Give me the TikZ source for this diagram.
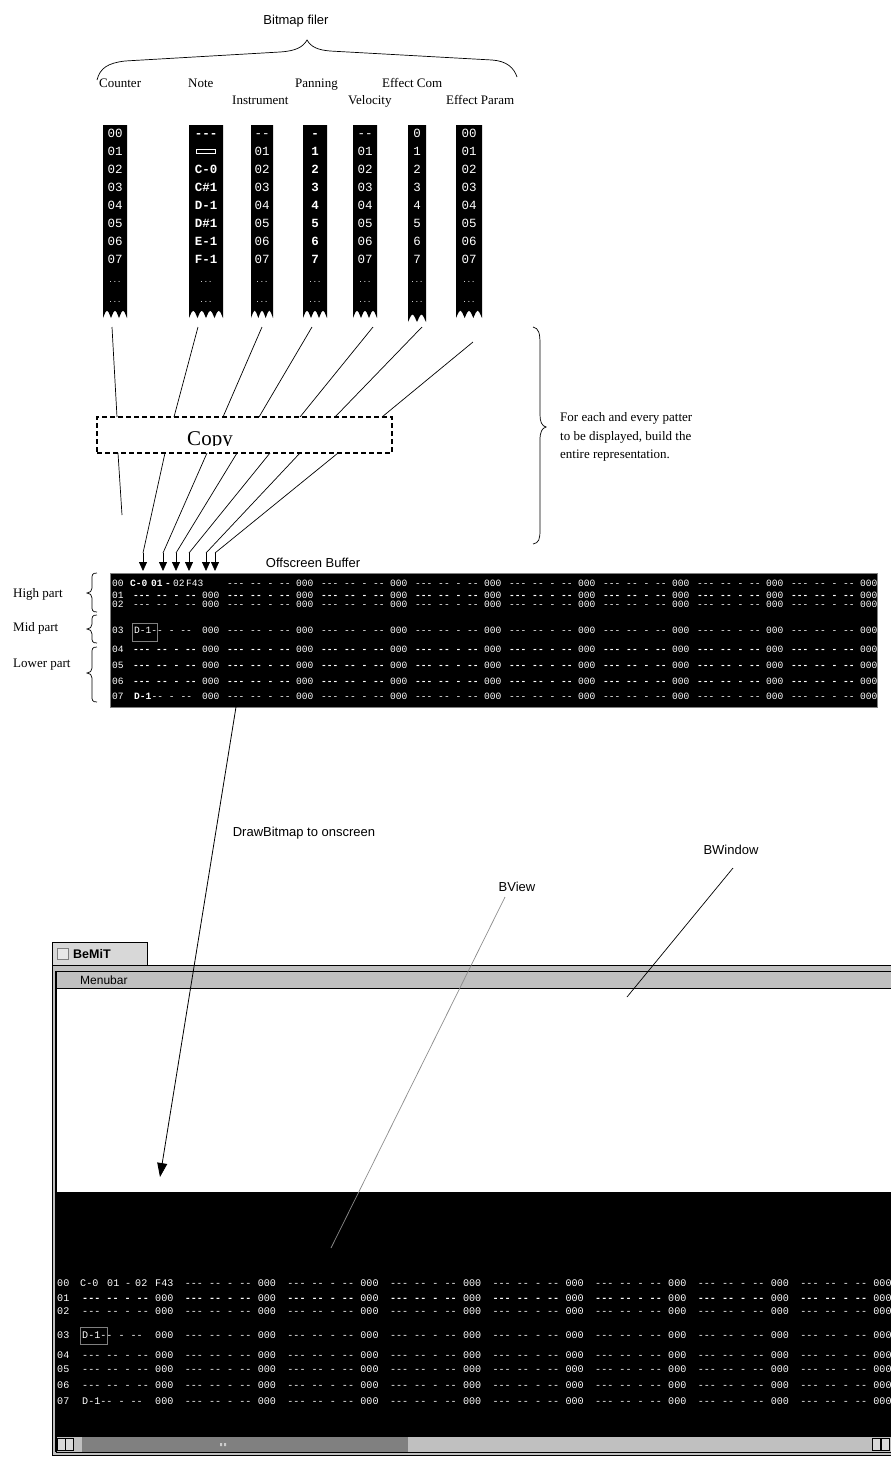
\documentclass[tikz,border=0pt]{standalone}
\usepackage{fontspec}
\setmainfont{Liberation Serif}
\setsansfont{Liberation Sans}
\newfontfamily\monof{Liberation Mono}
\usetikzlibrary{arrows.meta}
\definecolor{wingray}{HTML}{C0C0C0}
\definecolor{tabgray}{HTML}{D8D8D8}
\definecolor{thumbgray}{HTML}{808080}
\definecolor{linegray}{HTML}{8C8C8C}

% black strip with scalloped bottom: x1 x2 top bottom humps
\newcommand\stripshape[5]{%
  \pgfmathsetmacro\hw{(#2-#1)/#5}%
  \fill[black] (#1,#3) -- (#2,#3) -- (#2,#4)
    \foreach \i in {1,...,#5} { .. controls ({#2-(\i-0.5)*\hw},{#4-10}) .. ({#2-\i*\hw},#4) } -- cycle;
}
% left curly brace: top tip bottom
\newcommand\vbraceL[3]{%
  \draw[bracestroke] (97,#1) .. controls (92,#1) and (92,{#1+2}) .. (92,{#1+6})
    -- (92,{#2-5}) .. controls (92,{#2-2}) and (90,#2) .. (87,#2)
    .. controls (90,#2) and (92,{#2+2}) .. (92,{#2+5})
    -- (92,{#3-6}) .. controls (92,{#3-2}) and (92,#3) .. (97,#3);
}

\begin{document}
\begin{tikzpicture}[x=1pt,y=-1pt,
  sanslbl/.style={font=\sffamily\fontsize{13}{15}\selectfont,inner sep=0pt,anchor=base},
  seriflbl/.style={font=\fontsize{13}{15}\selectfont,inner sep=0pt,anchor=base west},
  striptxt/.style={font=\monof\fontsize{12.5}{12.5}\selectfont,text=white,inner sep=0pt,anchor=base},
  stripbold/.style={striptxt,font=\monof\bfseries\fontsize{12.5}{12.5}\selectfont},
  dotstxt/.style={font=\monof\fontsize{7}{8}\selectfont,text=white,inner sep=0pt,anchor=base},
  ubuf/.style={font=\monof\fontsize{9.6}{10}\selectfont,text=white,inner sep=0pt,anchor=base west},
  lbuf/.style={font=\monof\fontsize{10.1}{11}\selectfont,text=white,inner sep=0pt,anchor=base west},
  conn/.style={line width=0.7pt},
  arrowln/.style={line width=0.8pt,-{Triangle[length=9pt,width=8pt]}},
  bracestroke/.style={line width=0.7pt},
]
\useasboundingbox (0,0) rectangle (891,1457);

% ---------- top labels ----------
\node[sanslbl] (bmf) at (296,24.5) {Bitmap filer};
\draw[bracestroke] (97,80) .. controls (100,68) and (108,63) .. (125,61)
  -- (280,52) .. controls (296,51) and (303,47) .. (307,40)
  .. controls (311,47) and (318,50) .. (330,51)
  -- (492,60) .. controls (507,61) and (514,68) .. (517,77);
\node[seriflbl] (lcount) at (99,87.5) {Counter};
\node[seriflbl] (lnote) at (188,87.5) {Note};
\node[seriflbl] (lpan) at (295,87.5) {Panning};
\node[seriflbl] (lecom) at (382,87.5) {Effect Com};
\node[seriflbl] (linst) at (232,104.5) {Instrument};
\node[seriflbl] (lvel) at (348,104.5) {Velocity};
\node[seriflbl] (lepar) at (446,104.5) {Effect Param};

% ---------- strips ----------
\stripshape{103}{127}{125}{318}{3}
\stripshape{189}{223}{125}{318}{4}
\stripshape{251}{273}{125}{318}{3}
\stripshape{303}{327}{125}{318}{3}
\stripshape{353}{377}{125}{318}{3}
\stripshape{408}{426}{125}{322}{2}
\stripshape{456}{482}{125}{318}{3}

\foreach \t [count=\i from 0] in {00,01,02,03,04,05,06,07}
  \node[striptxt] (cnt\i) at (115,{137.5+18*\i}) {\t};
\foreach \t/\i in {---/0,C-0/2,C\#1/3,D-1/4,D\#1/5,E-1/6,F-1/7}
  \node[stripbold] (nte\i) at (206,{137.5+18*\i}) {\t};
\draw[white,line width=1.2pt] (196.5,149.5) rectangle (215.5,153.5);
\foreach \t [count=\i from 0] in {--,01,02,03,04,05,06,07}
  \node[striptxt] (ins\i) at (262,{137.5+18*\i}) {\t};
\foreach \t [count=\i from 0] in {-,1,2,3,4,5,6,7}
  \node[stripbold] (pan\i) at (315,{137.5+18*\i}) {\t};
\foreach \t [count=\i from 0] in {--,01,02,03,04,05,06,07}
  \node[striptxt] (vel\i) at (365,{137.5+18*\i}) {\t};
\foreach \t [count=\i from 0] in {0,1,2,3,4,5,6,7}
  \node[striptxt] (eco\i) at (417,{137.5+18*\i}) {\t};
\foreach \t [count=\i from 0] in {00,01,02,03,04,05,06,07}
  \node[striptxt] (epa\i) at (469,{137.5+18*\i}) {\t};
\foreach \x/\n in {115/a,206/b,262/c,315/d,365/e,417/f,469/g} {
  \node[dotstxt] (dta\n) at (\x,282) {...};
  \node[dotstxt] (dtb\n) at (\x,302) {...};
}

% ---------- copy box ----------
\node[draw,dashed,dash pattern=on 5pt off 3pt,line width=1.3pt,minimum width=295pt,minimum height=36pt,inner sep=0pt] (copybox) at (244.5,435) {};
\begin{scope}
  \clip (150,420) rectangle (270,445.5);
  \node[font=\fontsize{21}{24}\selectfont,inner sep=0pt,anchor=base] (copytxt) at (210,445.5) {Copy};
\end{scope}

% strip -> copy
\coordinate (s1) at (112,327); \coordinate (t1) at (117,417);
\coordinate (s2) at (198,327); \coordinate (t2) at (174,417);
\coordinate (s3) at (262,327); \coordinate (t3) at (223,417);
\coordinate (s4) at (312,327); \coordinate (t4) at (259,417);
\coordinate (s5) at (373,327); \coordinate (t5) at (300,417);
\coordinate (s6) at (422,327); \coordinate (t6) at (335,417);
\coordinate (s7) at (473,342); \coordinate (t7) at (382,417);
\foreach \i in {1,...,7} \draw[conn] (s\i) -- (t\i);

% copy -> buffer
\coordinate (b0) at (118,453); \coordinate (e0) at (122,515);
\draw[conn] (b0) -- (e0);
\foreach \i/\bx/\ax in {1/165/143,2/207/163,3/237/176,4/270/189,5/300/206,6/338/215} {
  \coordinate (b\i) at (\bx,453);
  \coordinate (m\i) at (\ax,553);
  \coordinate (a\i) at (\ax,571);
  \draw[conn] (b\i) -- (m\i);
  \draw[arrowln] (m\i) -- (a\i);
}

% right brace + text
\draw[bracestroke] (533,327) .. controls (539,328) and (540,334) .. (540,344)
  -- (540,415) .. controls (540,422) and (542,426) .. (546,427)
  .. controls (542,428) and (540,432) .. (540,440)
  -- (540,530) .. controls (540,539) and (539,543) .. (533,544);
\node[seriflbl] (fe1) at (560,421.5) {For each and every patter};
\node[seriflbl] (fe2) at (560,440.5) {to be displayed, build the};
\node[seriflbl] (fe3) at (560,458.5) {entire representation.};

% ---------- offscreen buffer ----------
\node[sanslbl] (offlbl) at (313,567.5) {Offscreen Buffer};
\fill[black] (110,573) rectangle (877,707);
\draw[thumbgray,line width=0.6pt] (110,573) rectangle (877,707);

\foreach \lab/\y/\fw in {00/583/\mdseries,01/595/\bfseries,02/604/\mdseries,03/630/\mdseries,04/649/\bfseries,05/665/\bfseries,06/681/\bfseries,07/696/\mdseries} {
  \node[ubuf] (u\lab) at (112,{\y+3.5}) {\lab};
  \foreach \k in {1,...,7} {
    \node[ubuf] (u\lab d\k) at ({133+94*\k},{\y+3.5}) {\fw --- -- - --};
    \node[ubuf] (u\lab z\k) at ({202+94*\k},{\y+3.5}) {000};
  }
}
\foreach \lab/\y/\fw in {01/595/\bfseries,02/604/\mdseries,04/649/\bfseries,05/665/\bfseries,06/681/\bfseries}
  \node[ubuf] (u\lab d0) at (133,{\y+3.5}) {\fw --- -- - --};
\foreach \lab/\y in {01/595,02/604,03/630,04/649,05/665,06/681,07/696}
  \node[ubuf] (u\lab z0) at (202,{\y+3.5}) {000};
\node[ubuf] (u03d0) at (134,633.5) {D-1-- - --};
\draw[thumbgray,line width=0.7pt] (132.5,623.5) rectangle (157.5,641);
\node[ubuf] (u07d0) at (134,699.5) {\bfseries D-1};
\node[ubuf] (u07e0) at (151.5,699.5) {-- - --};
\node[ubuf] (u00a) at (130,586.5) {\bfseries C-0};
\node[ubuf] (u00b) at (151,586.5) {\bfseries 01};
\node[ubuf] (u00c) at (165,586.5) {\bfseries -};
\node[ubuf] (u00e) at (173,586.5) {02};
\node[ubuf] (u00f) at (186,586.5) {F43};

% left braces + labels
\vbraceL{573}{593}{612}
\vbraceL{615}{629}{643}
\vbraceL{647}{673}{702}
\node[seriflbl] (hp) at (13,597.5) {High part};
\node[seriflbl] (mp) at (13,631.5) {Mid part};
\node[seriflbl] (lp) at (13,667.5) {Lower part};

% ---------- window ----------
\node[draw,fill=tabgray,line width=0.7pt,minimum width=95pt,minimum height=23pt,inner sep=0pt] (tab) at (99.5,953.5) {};
\node[draw=thumbgray,fill=tabgray!60,line width=0.5pt,minimum width=11pt,minimum height=11pt,inner sep=0pt] (chk) at (62.5,953.5) {};
\node[font=\sffamily\bfseries\fontsize{12.5}{14}\selectfont,inner sep=0pt,anchor=base west] (title) at (73,958.5) {BeMiT};

\fill[wingray] (52,965) rectangle (895,1455);
\draw[line width=0.8pt] (52,965) rectangle (895,1455);
\fill[white] (56,989) rectangle (895,1192);
\fill[black] (56,1192) rectangle (895,1436);
\draw[line width=1.2pt] (56,971.5) -- (895,971.5);
\draw[line width=1.2pt] (56,988.5) -- (895,988.5);
\draw[line width=1.2pt] (56,971) -- (56,1452);
\node[font=\sffamily\fontsize{12}{14}\selectfont,inner sep=0pt,anchor=base west] (menubar) at (80,984.5) {Menubar};

% scrollbar
\fill[thumbgray] (82,1437) rectangle (408,1452);
\draw[line width=0.6pt] (56,1436.5) -- (895,1436.5);
\draw[line width=0.6pt] (56,1452.5) -- (895,1452.5);
\foreach \xa/\n in {57/sa,65/sb,872/sc,881/sd}
  \node[draw,fill=tabgray,line width=0.5pt,minimum width=7.5pt,minimum height=12pt,inner sep=0pt,anchor=north west] (\n) at (\xa,1438) {};
\fill[thumbgray!40] (220,1443) rectangle (222,1446) (224,1443) rectangle (226,1446);

% lower rows
\foreach \lab/\y/\fw in {00/1283/\mdseries,01/1298/\bfseries,02/1311/\mdseries,03/1335/\mdseries,04/1355/\mdseries,05/1369/\mdseries,06/1385/\mdseries,07/1401/\mdseries} {
  \node[lbuf] (l\lab) at (57,{\y+3.5}) {\lab};
  \foreach \k in {1,...,7} {
    \node[lbuf] (l\lab d\k) at ({82+102.6*\k},{\y+3.5}) {\fw --- -- - --};
    \node[lbuf] (l\lab z\k) at ({155+102.6*\k},{\y+3.5}) {000};
  }
}
\foreach \lab/\y/\fw in {01/1298/\bfseries,02/1311/\mdseries,04/1355/\mdseries,05/1369/\mdseries,06/1385/\mdseries}
  \node[lbuf] (l\lab d0) at (82,{\y+3.5}) {\fw --- -- - --};
\foreach \lab/\y in {01/1298,02/1311,03/1335,04/1355,05/1369,06/1385,07/1401}
  \node[lbuf] (l\lab z0) at (155,{\y+3.5}) {000};
\node[lbuf] (l03d0) at (82,1338.5) {D-1-- - --};
\draw[thumbgray,line width=0.7pt] (80,1327) rectangle (107,1344);
\node[lbuf] (l07d0) at (82,1404.5) {D-1-- - --};
\node[lbuf] (l00a) at (80,1286.5) {C-0};
\node[lbuf] (l00b) at (107,1286.5) {01};
\node[lbuf] (l00c) at (125,1286.5) {-};
\node[lbuf] (l00e) at (135,1286.5) {02};
\node[lbuf] (l00f) at (155,1286.5) {F43};

% ---------- annotations ----------
\coordinate (dbs) at (236,707);
\coordinate (dbe) at (160,1177);
\draw[line width=0.8pt,-{Triangle[length=14pt,width=10pt]}] (dbs) -- (dbe);
\node[sanslbl] (drawlbl) at (304,836.5) {DrawBitmap to onscreen};
\node[sanslbl] (bwinlbl) at (731,854.5) {BWindow};
\node[sanslbl] (bviewlbl) at (517,891.5) {BView};
\coordinate (bws) at (733,868); \coordinate (bwe) at (627,997);
\draw[conn] (bws) -- (bwe);
\coordinate (bvs) at (505,897); \coordinate (bve) at (331,1248);
\draw[conn,linegray] (bvs) -- (bve);
\end{tikzpicture}
\end{document}
